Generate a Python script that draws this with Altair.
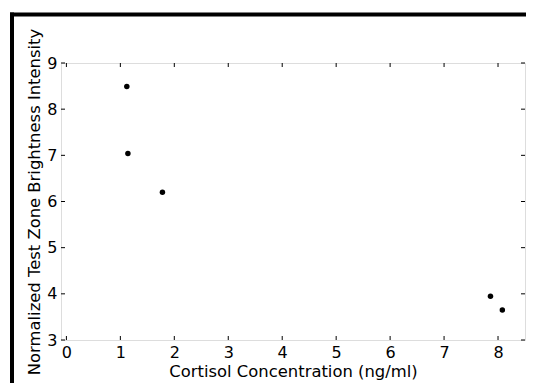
import altair as alt
import pandas as pd

conc = [1.12, 1.14, 1.78, 7.86, 8.08]
intensity = [8.49, 7.04, 6.20, 3.95, 3.65]
x_ticks = [0, 1, 2, 3, 4, 5, 6, 7, 8]
y_ticks = [3, 4, 5, 6, 7, 8, 9]

W, H = 464, 277
TICK = 4

df = pd.DataFrame({"conc": conc, "intensity": intensity})
xt = pd.DataFrame({"v": x_ticks})
yt = pd.DataFrame({"v": y_ticks})

FONT = "DejaVu Sans"
xscale = alt.Scale(domain=[-0.1, 8.5], nice=False, zero=False)
yscale = alt.Scale(domain=[3, 9], nice=False, zero=False)

x_main = alt.Axis(orient="bottom", values=x_ticks, labelFontSize=16, labelFont=FONT,
                  labelColor="black", labelPadding=4, ticks=False, tickSize=0,
                  domain=False, grid=False,
                  title="Cortisol Concentration (ng/ml)",
                  titleFont=FONT, titleFontSize=16.4, titleFontWeight="normal",
                  titleColor="black", titlePadding=3, labelFlush=False)
y_main = alt.Axis(orient="left", values=y_ticks, labelFontSize=16, labelFont=FONT,
                  labelColor="black", labelPadding=4, ticks=False, tickSize=0,
                  domain=False, grid=False,
                  title="Normalized Test Zone Brightness Intensity",
                  titleFont=FONT, titleFontSize=16.4, titleFontWeight="normal",
                  titleColor="black", titlePadding=4, labelFlush=False)

points = alt.Chart(df).mark_circle(size=30, color="black", opacity=1).encode(
    x=alt.X("conc:Q", scale=xscale, axis=x_main),
    y=alt.Y("intensity:Q", scale=yscale, axis=y_main),
)

tick_style = dict(color="black", strokeWidth=1)
bottom_ticks = alt.Chart(xt).mark_rule(**tick_style).encode(
    x=alt.X("v:Q", scale=xscale), y=alt.value(H - TICK), y2=alt.value(H))
top_ticks = alt.Chart(xt).mark_rule(**tick_style).encode(
    x=alt.X("v:Q", scale=xscale), y=alt.value(0), y2=alt.value(TICK))
left_ticks = alt.Chart(yt).mark_rule(**tick_style).encode(
    y=alt.Y("v:Q", scale=yscale), x=alt.value(0), x2=alt.value(TICK))
right_ticks = alt.Chart(yt).mark_rule(**tick_style).encode(
    y=alt.Y("v:Q", scale=yscale), x=alt.value(W - TICK), x2=alt.value(W))

one = pd.DataFrame({"a": [0]})
frame_top = alt.Chart(one).mark_rule(color="black", strokeWidth=4).encode(
    x=alt.value(-51), x2=alt.value(465), y=alt.value(-48.5))
frame_left = alt.Chart(one).mark_rule(color="black", strokeWidth=4).encode(
    x=alt.value(-49), y=alt.value(-50.5), y2=alt.value(320))

chart = alt.layer(points, bottom_ticks, top_ticks, left_ticks, right_ticks,
                  frame_top, frame_left).properties(
    width=W, height=H,
    autosize=alt.AutoSizeParams(type="none"),
    padding={"left": 53, "top": 55, "right": 1, "bottom": 43},
).configure_view(stroke="black", strokeWidth=1).configure(background="white")

chart.save("out.html", embed_options={"renderer": "svg", "actions": False})
